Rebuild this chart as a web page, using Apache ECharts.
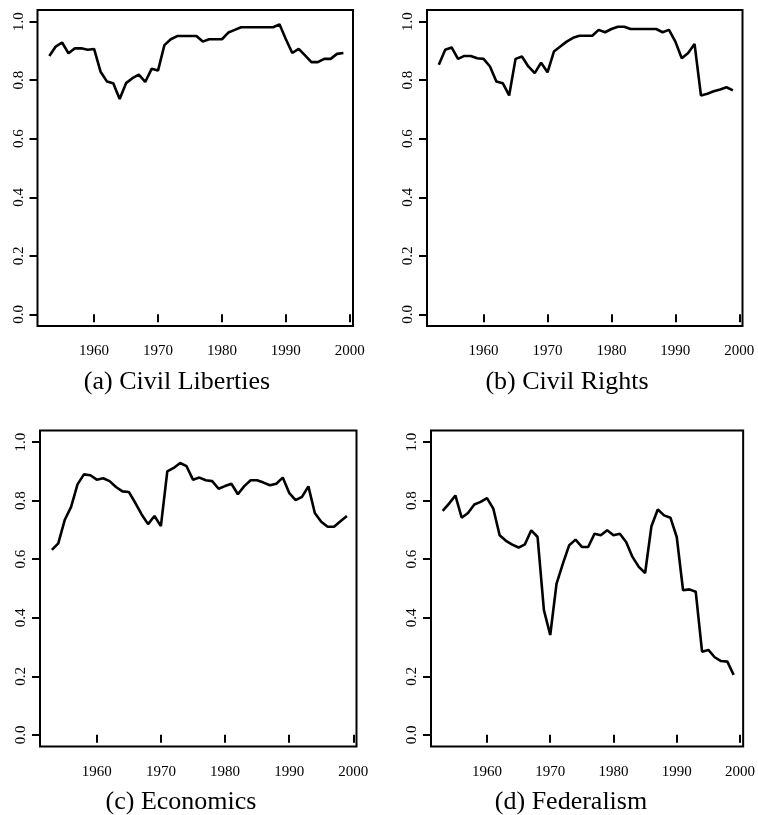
<!DOCTYPE html>
<html>
<head>
<meta charset="utf-8">
<script src="https://cdn.jsdelivr.net/npm/echarts@6/dist/echarts.min.js"></script>
<style>
html,body{margin:0;padding:0;background:#fff;}
#chart{width:758px;height:815px;}
</style>
</head>
<body>
<div id="chart"></div>
<script>
var years = [];
for (var y = 1953; y <= 1999; y++) years.push(y);

var xTicks = [1960, 1970, 1980, 1990, 2000];
var yTicks = [0, 0.2, 0.4, 0.6, 0.8, 1.0];

var panelTitles = ['(a) Civil Liberties', '(b) Civil Rights', '(c) Economics', '(d) Federalism'];

var civilLiberties = [0.883, 0.915, 0.929, 0.892, 0.909, 0.909, 0.904, 0.907, 0.830, 0.796,
  0.790, 0.736, 0.790, 0.807, 0.819, 0.794, 0.839, 0.833, 0.920, 0.940,
  0.951, 0.951, 0.951, 0.951, 0.932, 0.940, 0.940, 0.940, 0.963, 0.972,
  0.981, 0.981, 0.981, 0.981, 0.981, 0.981, 0.991, 0.940, 0.893, 0.907,
  0.885, 0.862, 0.862, 0.873, 0.873, 0.890, 0.893];

var civilRights = [0.853, 0.904, 0.912, 0.873, 0.883, 0.883, 0.875, 0.873, 0.847, 0.796,
  0.790, 0.748, 0.873, 0.881, 0.847, 0.824, 0.860, 0.827, 0.898, 0.915,
  0.932, 0.945, 0.952, 0.952, 0.952, 0.972, 0.964, 0.975, 0.983, 0.983,
  0.975, 0.975, 0.975, 0.975, 0.975, 0.964, 0.972, 0.932, 0.875, 0.893,
  0.924, 0.748, 0.754, 0.762, 0.768, 0.776, 0.765];

var economics = [0.632, 0.654, 0.734, 0.779, 0.856, 0.890, 0.887, 0.872, 0.877, 0.867,
  0.847, 0.832, 0.830, 0.793, 0.753, 0.720, 0.748, 0.713, 0.900, 0.912,
  0.929, 0.918, 0.872, 0.879, 0.870, 0.867, 0.841, 0.850, 0.858, 0.822,
  0.850, 0.870, 0.870, 0.862, 0.853, 0.858, 0.879, 0.827, 0.802, 0.813,
  0.849, 0.758, 0.728, 0.711, 0.711, 0.730, 0.748];

var federalism = [0.765, 0.790, 0.818, 0.742, 0.758, 0.787, 0.796, 0.809, 0.773, 0.682,
  0.663, 0.650, 0.640, 0.651, 0.699, 0.676, 0.426, 0.341, 0.517, 0.585,
  0.648, 0.667, 0.642, 0.642, 0.687, 0.682, 0.699, 0.682, 0.687, 0.659,
  0.608, 0.574, 0.553, 0.713, 0.770, 0.750, 0.742, 0.676, 0.494, 0.497,
  0.489, 0.284, 0.290, 0.265, 0.252, 0.250, 0.205];

var seriesValues = [civilLiberties, civilRights, economics, federalism];

var grids = [
  {left: 37.5, top: 10, width: 315.5, height: 316},
  {left: 427, top: 10, width: 315.5, height: 316},
  {left: 40, top: 430.5, width: 316.5, height: 316},
  {left: 431, top: 430.5, width: 316, height: 316}
];
var titlePos = [[177, 382], [567, 382], [181, 802], [571, 802]];

var FONT = '"Liberation Serif", "Times New Roman", serif';

var option = {
  animation: false,
  backgroundColor: '#fff',
  grid: grids.map(function (g) {
    return {left: g.left, top: g.top, width: g.width, height: g.height,
      show: true, borderColor: '#000', borderWidth: 2, backgroundColor: 'transparent'};
  }),
  xAxis: grids.map(function (g, i) {
    return {
      type: 'value', gridIndex: i, min: 1951.15, max: 2000.5,
      splitLine: {show: false},
      axisLine: {show: false},
      axisTick: {show: true, length: 8, customValues: xTicks, lineStyle: {color: '#000', width: 2}},
      axisLabel: {show: true, customValues: xTicks, margin: 18, color: '#000',
        fontFamily: FONT, fontSize: 15,
        formatter: function (v) { return String(Math.round(v)); }}
    };
  }),
  yAxis: grids.map(function (g, i) {
    return {
      type: 'value', gridIndex: i, min: -0.04, max: 1.04,
      splitLine: {show: false},
      axisLine: {show: false},
      axisTick: {show: true, length: 8, customValues: yTicks, lineStyle: {color: '#000', width: 2}},
      axisLabel: {show: true, customValues: yTicks, margin: 11, rotate: 90, color: '#000',
        fontFamily: FONT, fontSize: 15,
        formatter: function (v) { return v.toFixed(1); }}
    };
  }),
  series: seriesValues.map(function (vals, i) {
    return {
      type: 'line', xAxisIndex: i, yAxisIndex: i,
      data: years.map(function (yr, k) { return [yr, vals[k]]; }),
      showSymbol: false, symbol: 'none',
      lineStyle: {color: '#000', width: 2.6},
      z: 1
    };
  }),
  graphic: panelTitles.map(function (t, i) {
    return {
      type: 'text', x: titlePos[i][0], y: titlePos[i][1],
      style: {text: t, fontFamily: FONT, fontSize: 26, fill: '#000',
        align: 'center', verticalAlign: 'middle'}
    };
  })
};

var chart = echarts.init(document.getElementById('chart'), null, {renderer: 'canvas'});
chart.setOption(option);
</script>
</body>
</html>
